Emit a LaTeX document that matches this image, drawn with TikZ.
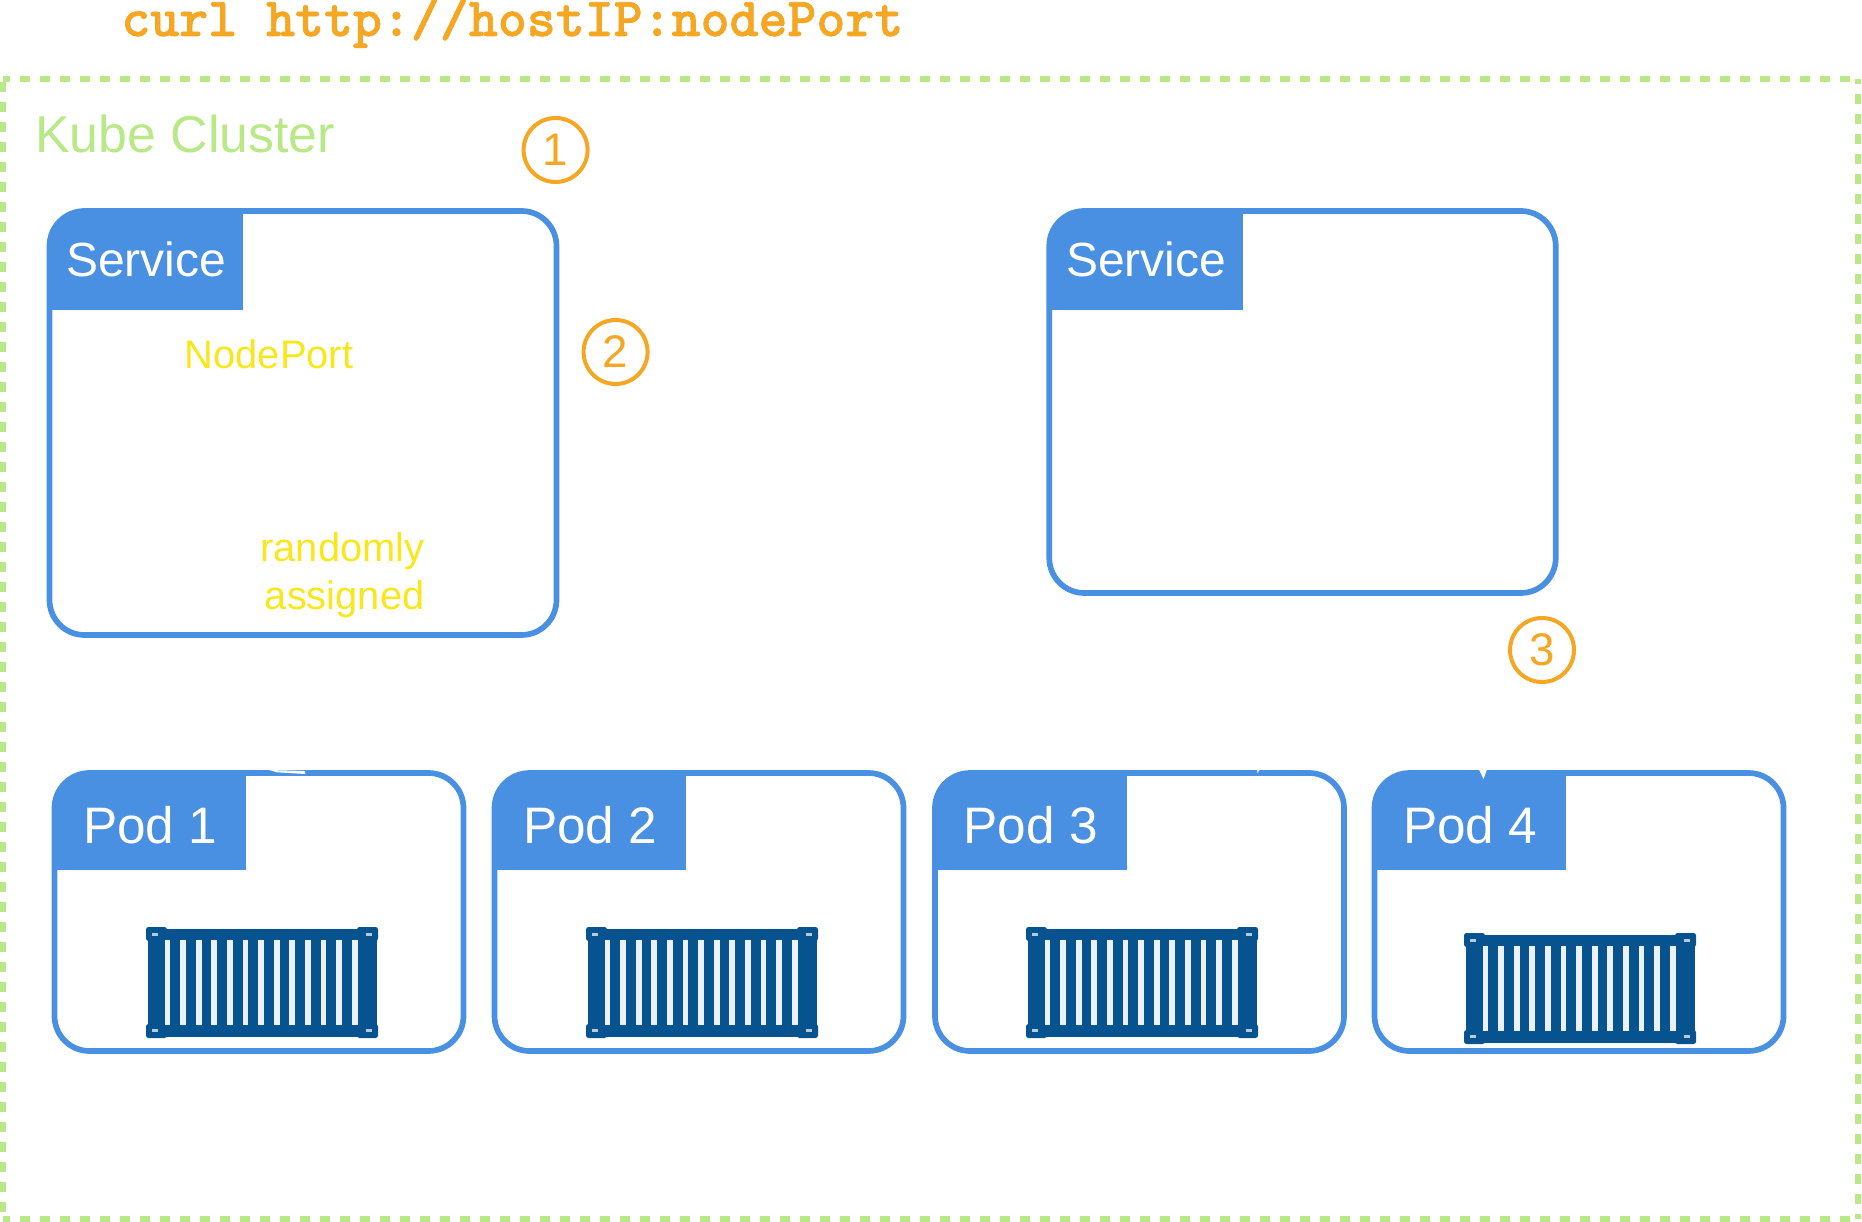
\documentclass[tikz,border=0pt]{standalone}
\usepackage{fontspec}
\setmainfont{Liberation Sans}
\newfontfamily\curlfont[FakeBold=1.2]{lmmonolt10-bold.otf}
\definecolor{boxblue}{HTML}{4A90E2}
\definecolor{crateblue}{HTML}{07538F}
\definecolor{curlorange}{HTML}{F5A623}
\definecolor{clustergreen}{HTML}{B8E986}
\definecolor{noteyellow}{HTML}{F8E71C}
\tikzset{
    boxshape/.style 2 args={draw=boxblue, line width=0.114cm, rounded corners=0.7cm,
        minimum width=#1*0.02cm, minimum height=#2*0.02cm, inner sep=0pt, outer sep=0pt},
    headshape/.style 2 args={fill=boxblue, text=white, anchor=north west, inner sep=0pt, outer sep=0pt,
        minimum width=#1*0.02cm, minimum height=#2*0.02cm},
    clusterline/.style={draw=clustergreen, line width=0.12cm},
    stepmark/.style={circle, draw=curlorange, line width=0.08cm, text=curlorange,
        minimum size=1.28cm, inner sep=0pt, font=\fontsize{26}{28}\selectfont},
    notetext/.style={text=noteyellow, inner sep=0pt, font=\fontsize{22.7}{27.3}\selectfont},
    crate/.pic={
        \fill[crateblue] (1.5,1.5) rectangle (231,110);
        \foreach \cx/\cy in {0/0, 211/0, 0/97, 211/97} {
            \fill[crateblue, rounded corners=0.05cm] (\cx,\cy) rectangle ++(21,14);
        }
        \foreach \cx/\cy in {6/5.5, 220/5.5, 6/102, 220/102} {
            \fill[white!70!crateblue] (\cx,\cy) rectangle ++(6,3);
        }
        \foreach \i in {0,...,12} {
            \fill[white!92!crateblue] ({18.5+15.6*\i},13) rectangle ++(5.8,85);
        }
    },
}

\begin{document}
\begin{tikzpicture}[x=0.02cm, y=-0.02cm]

    \useasboundingbox (0,0) rectangle (1862,1222);

    % cluster
    \node[minimum width=1855*0.02cm, minimum height=1139*0.02cm, inner sep=0pt, outer sep=0pt] (cluster) at (930.5,649) {};
    \draw[clusterline, dash pattern=on 0.2cm off 0.2cm, dash phase=0.06cm] (cluster.north west) -- (cluster.north east);
    \draw[clusterline, dash pattern=on 0.2cm off 0.2cm, dash phase=0.06cm] (cluster.south west) -- (cluster.south east);
    \draw[clusterline, dash pattern=on 0.2cm off 0.2cm, dash phase=0.34cm] (cluster.north west) -- (cluster.south west);
    \draw[clusterline, dash pattern=on 0.2cm off 0.2cm, dash phase=0.1cm] (cluster.north east) -- (cluster.south east);
    \node[anchor=base west, text=clustergreen, inner sep=0pt, font=\fontsize{29.5}{31}\selectfont]
        (clustername) at (35,153) {Kube Cluster};
    \node[anchor=base west, text=curlorange, inner sep=0pt, font=\curlfont\fontsize{31.4}{33}\selectfont]
        (curlcmd) at (121,36) {curl http://hostIP:nodePort};

    % services
    \foreach \name/\cx/\cy/\w/\h/\hw in {svcA/303/423/507/424/193, svcB/1302.5/402/506.5/382/193.5} {
        \begin{scope}
            \clip[rounded corners=0.7cm] ({\cx-\w/2},{\cy-\h/2}) rectangle ({\cx+\w/2},{\cy+\h/2});
            \node[headshape={\hw}{99}, text height=20pt, text depth=1.4pt, font=\fontsize{27.3}{30}\selectfont]
                (\name head) at ({\cx-\w/2},{\cy-\h/2}) {Service};
        \end{scope}
        \node[boxshape={\w}{\h}] (\name) at (\cx,\cy) {};
    }

    \node[notetext, anchor=base] (portnote) at (269,369) {NodePort};
    \node[notetext, align=right] (randnote) at (342.5,575) {randomly\\assigned};

    \node[stepmark] (mark1) at (555.6,150) {1};
    \node[stepmark] (mark2) at (615.6,352) {2};
    \node[stepmark] (mark3) at (1542,650) {3};

    % pods
    \foreach \i/\cx/\cratex/\cratey in {1/259/146/927, 2/699/586/927, 3/1139.5/1026/927, 4/1579/1464/933} {
        \begin{scope}
            \clip[rounded corners=0.7cm] ({\cx-204.5},773) rectangle ({\cx+204.5},1051);
            \node[headshape={191.5}{97}, text height=25pt, text depth=0pt, font=\fontsize{29.2}{31}\selectfont]
                (pod\i head) at ({\cx-204.5},773) {Pod \i};
        \end{scope}
        \node[boxshape={409}{278}] (pod\i) at (\cx,912) {};
        \pic at (\cratex,\cratey) {crate};
    }

    % kleine Reste auf den Kanten
    \fill[white] (269,770) -- (305,771) -- (305,774) -- (277,772.3) -- cycle;
    \fill[white] (1257,770) -- (1259.5,770) -- (1257.5,773) -- cycle;
    \fill[white] (1479,769.5) -- (1487,769.5) -- (1483.5,779) -- cycle;

\end{tikzpicture}
\end{document}
